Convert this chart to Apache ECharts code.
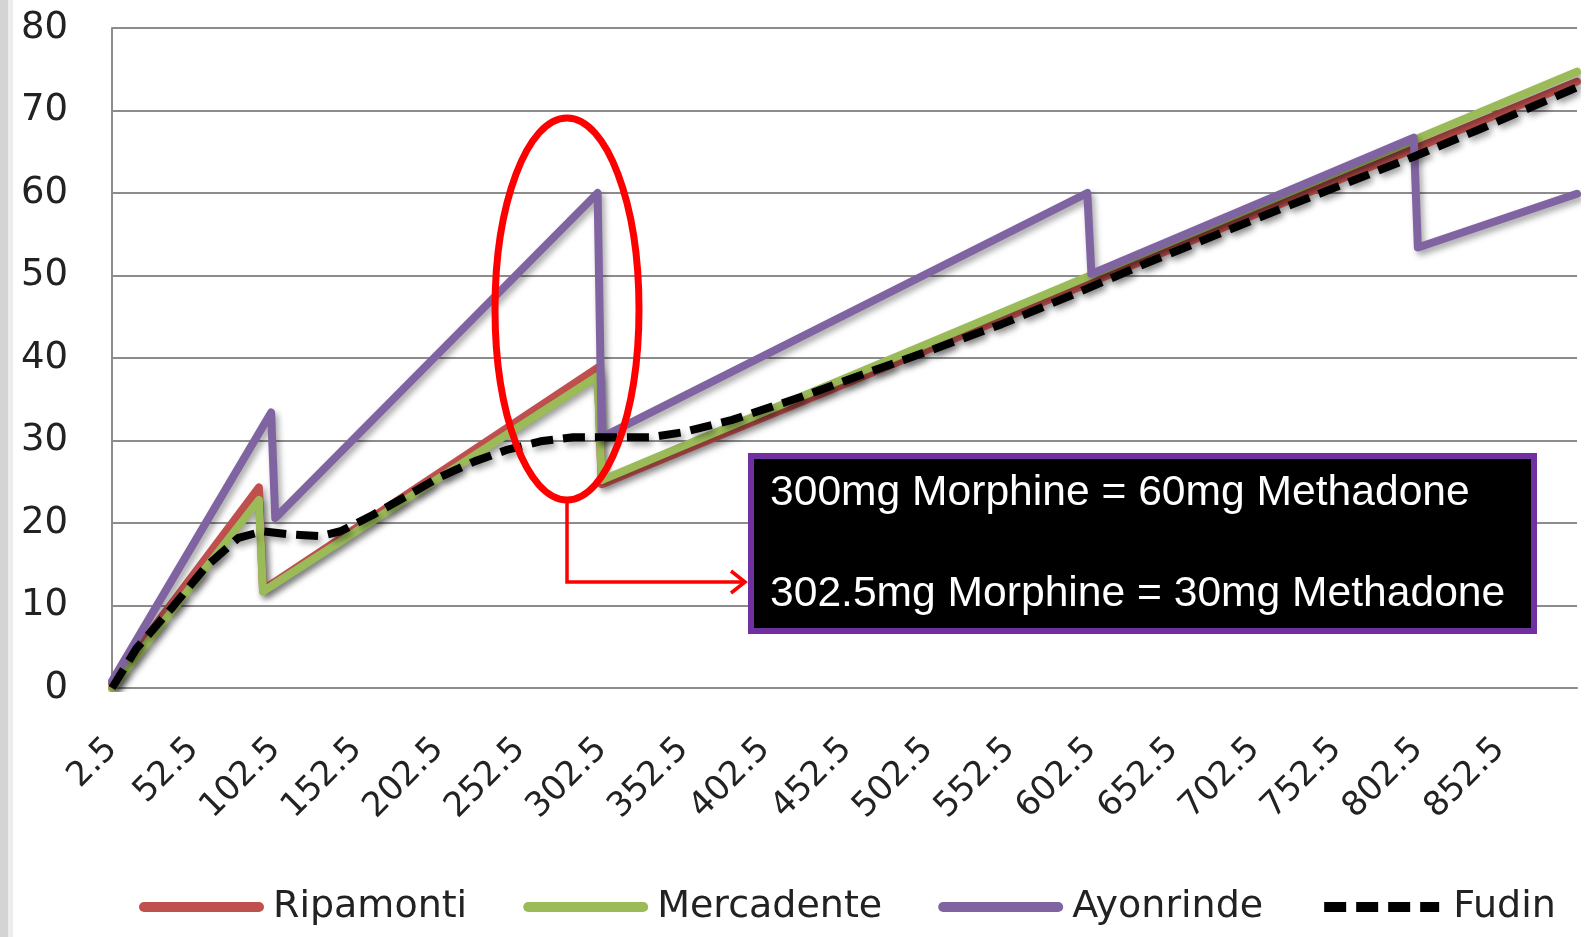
<!DOCTYPE html>
<html>
<head>
<meta charset="utf-8">
<title>Morphine to methadone conversion</title>
<script src="https://cdn.jsdelivr.net/npm/echarts@6/dist/echarts.min.js"></script>
<style>
  html, body { margin: 0; padding: 0; background: #fff; }
  #chart { width: 1589px; height: 937px; }
</style>
</head>
<body>
<div id="chart"></div>
<script>
// morphine dose (mg) on the category axis, 2.5 mg steps up to 900
const doses = []
for (let i = 1; i <= 360; i++) doses.push(String(i * 2.5))

// methadone dose (mg) at the break points of each curve
const ripamontiDose = [2.5, 92.5, 95, 300, 302.5, 900]
const ripamontiMg = [0.6, 24.3, 11.9, 38.8, 24.7, 73.5]

const mercadenteDose = [2.5, 92.5, 95, 300, 302.5, 900]
const mercadenteMg = [0, 22.8, 11.7, 37.8, 25.2, 74.7]

const ayonrindeDose = [2.5, 100, 102.5, 300, 302.5, 600, 602.5, 800, 802.5, 900]
const ayonrindeMg = [0.8, 33.4, 20.6, 60, 30.4, 60, 50.2, 66.7, 53.4, 59.9]

const fudinDose = [2.5, 17.5, 40, 60, 80, 95, 112.5, 130, 142.5, 162.5, 182.5, 202.5, 225, 245, 265, 285,
  305, 332.5, 352.5, 382.5, 425, 465, 505, 547.5, 595, 637.5, 677.5, 717.5, 760, 800, 840, 900]
const fudinMg = [0, 4.8, 9.9, 14.7, 18.2, 19.0, 18.6, 18.4, 19.0, 21.0, 23.2, 25.5, 27.5, 28.9, 29.9, 30.4,
  30.4, 30.4, 31.0, 32.5, 35.3, 38.2, 41.0, 44.1, 48.0, 51.6, 54.8, 58.0, 61.3, 64.4, 67.7, 72.8]

const seriesNames = ['Ripamonti', 'Mercadente', 'Ayonrinde', 'Fudin']
const annotationLines = ['300mg Morphine = 60mg Methadone', '302.5mg Morphine = 30mg Methadone']

const pairs = (dose, mg) => dose.map((d, i) => [String(d), mg[i]])

const shadow = {
  shadowColor: 'rgba(0, 0, 0, 0.35)',
  shadowBlur: 6,
  shadowOffsetX: 3,
  shadowOffsetY: 4
}

const myChart = echarts.init(document.getElementById('chart'))

const option = {
  animation: false,
  backgroundColor: '#fff',
  grid: {
    left: 112,
    right: 12,
    top: 28,
    bottom: 249,
    outerBoundsMode: 'none'
  },
  legend: {
    left: 134,
    top: 883,
    itemWidth: 115,
    itemHeight: 14,
    itemGap: 56,
    lineStyle: { width: 10, cap: 'round' },
    itemStyle: { opacity: 0 },
    textStyle: {
      fontFamily: 'DejaVu Sans',
      fontSize: 38,
      color: '#222',
      padding: [0, 0, 0, 9]
    },
    data: [
      seriesNames[0],
      seriesNames[1],
      seriesNames[2],
      { name: seriesNames[3], lineStyle: { cap: 'butt' } }
    ]
  },
  xAxis: {
    type: 'category',
    data: doses,
    boundaryGap: false,
    axisLine: { lineStyle: { color: '#8c8c8c', width: 2 } },
    axisTick: { show: false },
    axisLabel: {
      interval: 19,
      rotate: 45,
      margin: 56,
      fontFamily: 'DejaVu Sans',
      fontSize: 34,
      color: '#222'
    },
    splitLine: { show: false }
  },
  yAxis: {
    type: 'value',
    min: 0,
    max: 80,
    interval: 10,
    axisLine: { show: true, lineStyle: { color: '#8c8c8c', width: 2 } },
    axisTick: { show: false },
    axisLabel: {
      margin: 44,
      fontFamily: 'DejaVu Sans',
      fontSize: 37,
      color: '#222'
    },
    splitLine: { lineStyle: { color: '#8c8c8c', width: 2 } }
  },
  series: [
    {
      name: 'Ripamonti',
      type: 'line',
      symbol: 'none',
      data: pairs(ripamontiDose, ripamontiMg),
      itemStyle: { color: '#c0504d' },
      lineStyle: Object.assign({ color: '#c0504d', width: 8, join: 'round', cap: 'round' }, shadow)
    },
    {
      name: 'Mercadente',
      type: 'line',
      symbol: 'none',
      data: pairs(mercadenteDose, mercadenteMg),
      itemStyle: { color: '#9bbb59' },
      lineStyle: Object.assign({ color: '#9bbb59', width: 8, join: 'round', cap: 'round' }, shadow)
    },
    {
      name: 'Ayonrinde',
      type: 'line',
      symbol: 'none',
      data: pairs(ayonrindeDose, ayonrindeMg),
      itemStyle: { color: '#8064a2' },
      lineStyle: Object.assign({ color: '#8064a2', width: 8, join: 'round', cap: 'round' }, shadow)
    },
    {
      name: 'Fudin',
      type: 'line',
      symbol: 'none',
      data: pairs(fudinDose, fudinMg),
      itemStyle: { color: '#000' },
      lineStyle: Object.assign({ color: '#000', width: 8, type: [22, 10], join: 'round' }, shadow)
    }
  ],
  graphic: [
    // grey window edge at the far left
    { type: 'rect', z: 20, shape: { x: 0, y: 0, width: 8, height: 937 }, style: { fill: '#d4d4d4' } },
    { type: 'rect', z: 20, shape: { x: 8, y: 0, width: 5, height: 937 }, style: { fill: '#ededed' } },
    // red ring round the 300 mg step and its arrow to the note
    {
      type: 'ellipse', z: 20,
      shape: { cx: 567, cy: 309, rx: 72, ry: 191 },
      style: { fill: 'none', stroke: '#ff0000', lineWidth: 7 }
    },
    {
      type: 'polyline', z: 20,
      shape: { points: [[567, 503], [567, 582], [745, 582]] },
      style: { fill: 'none', stroke: '#ff0000', lineWidth: 3.5 }
    },
    {
      type: 'polyline', z: 20,
      shape: { points: [[731, 571], [745, 582], [731, 593]] },
      style: { fill: 'none', stroke: '#ff0000', lineWidth: 3.5 }
    },
    {
      type: 'rect', z: 20,
      shape: { x: 751, y: 456, width: 783, height: 175 },
      style: { fill: '#000', stroke: '#7030a0', lineWidth: 6 }
    },
    {
      type: 'text', z: 21, x: 770, y: 493,
      style: { text: annotationLines[0], fill: '#fff', font: '42.6px "Liberation Sans"', verticalAlign: 'middle' }
    },
    {
      type: 'text', z: 21, x: 770, y: 594,
      style: { text: annotationLines[1], fill: '#fff', font: '42.6px "Liberation Sans"', verticalAlign: 'middle' }
    }
  ]
}

myChart.setOption(option)
</script>
</body>
</html>
